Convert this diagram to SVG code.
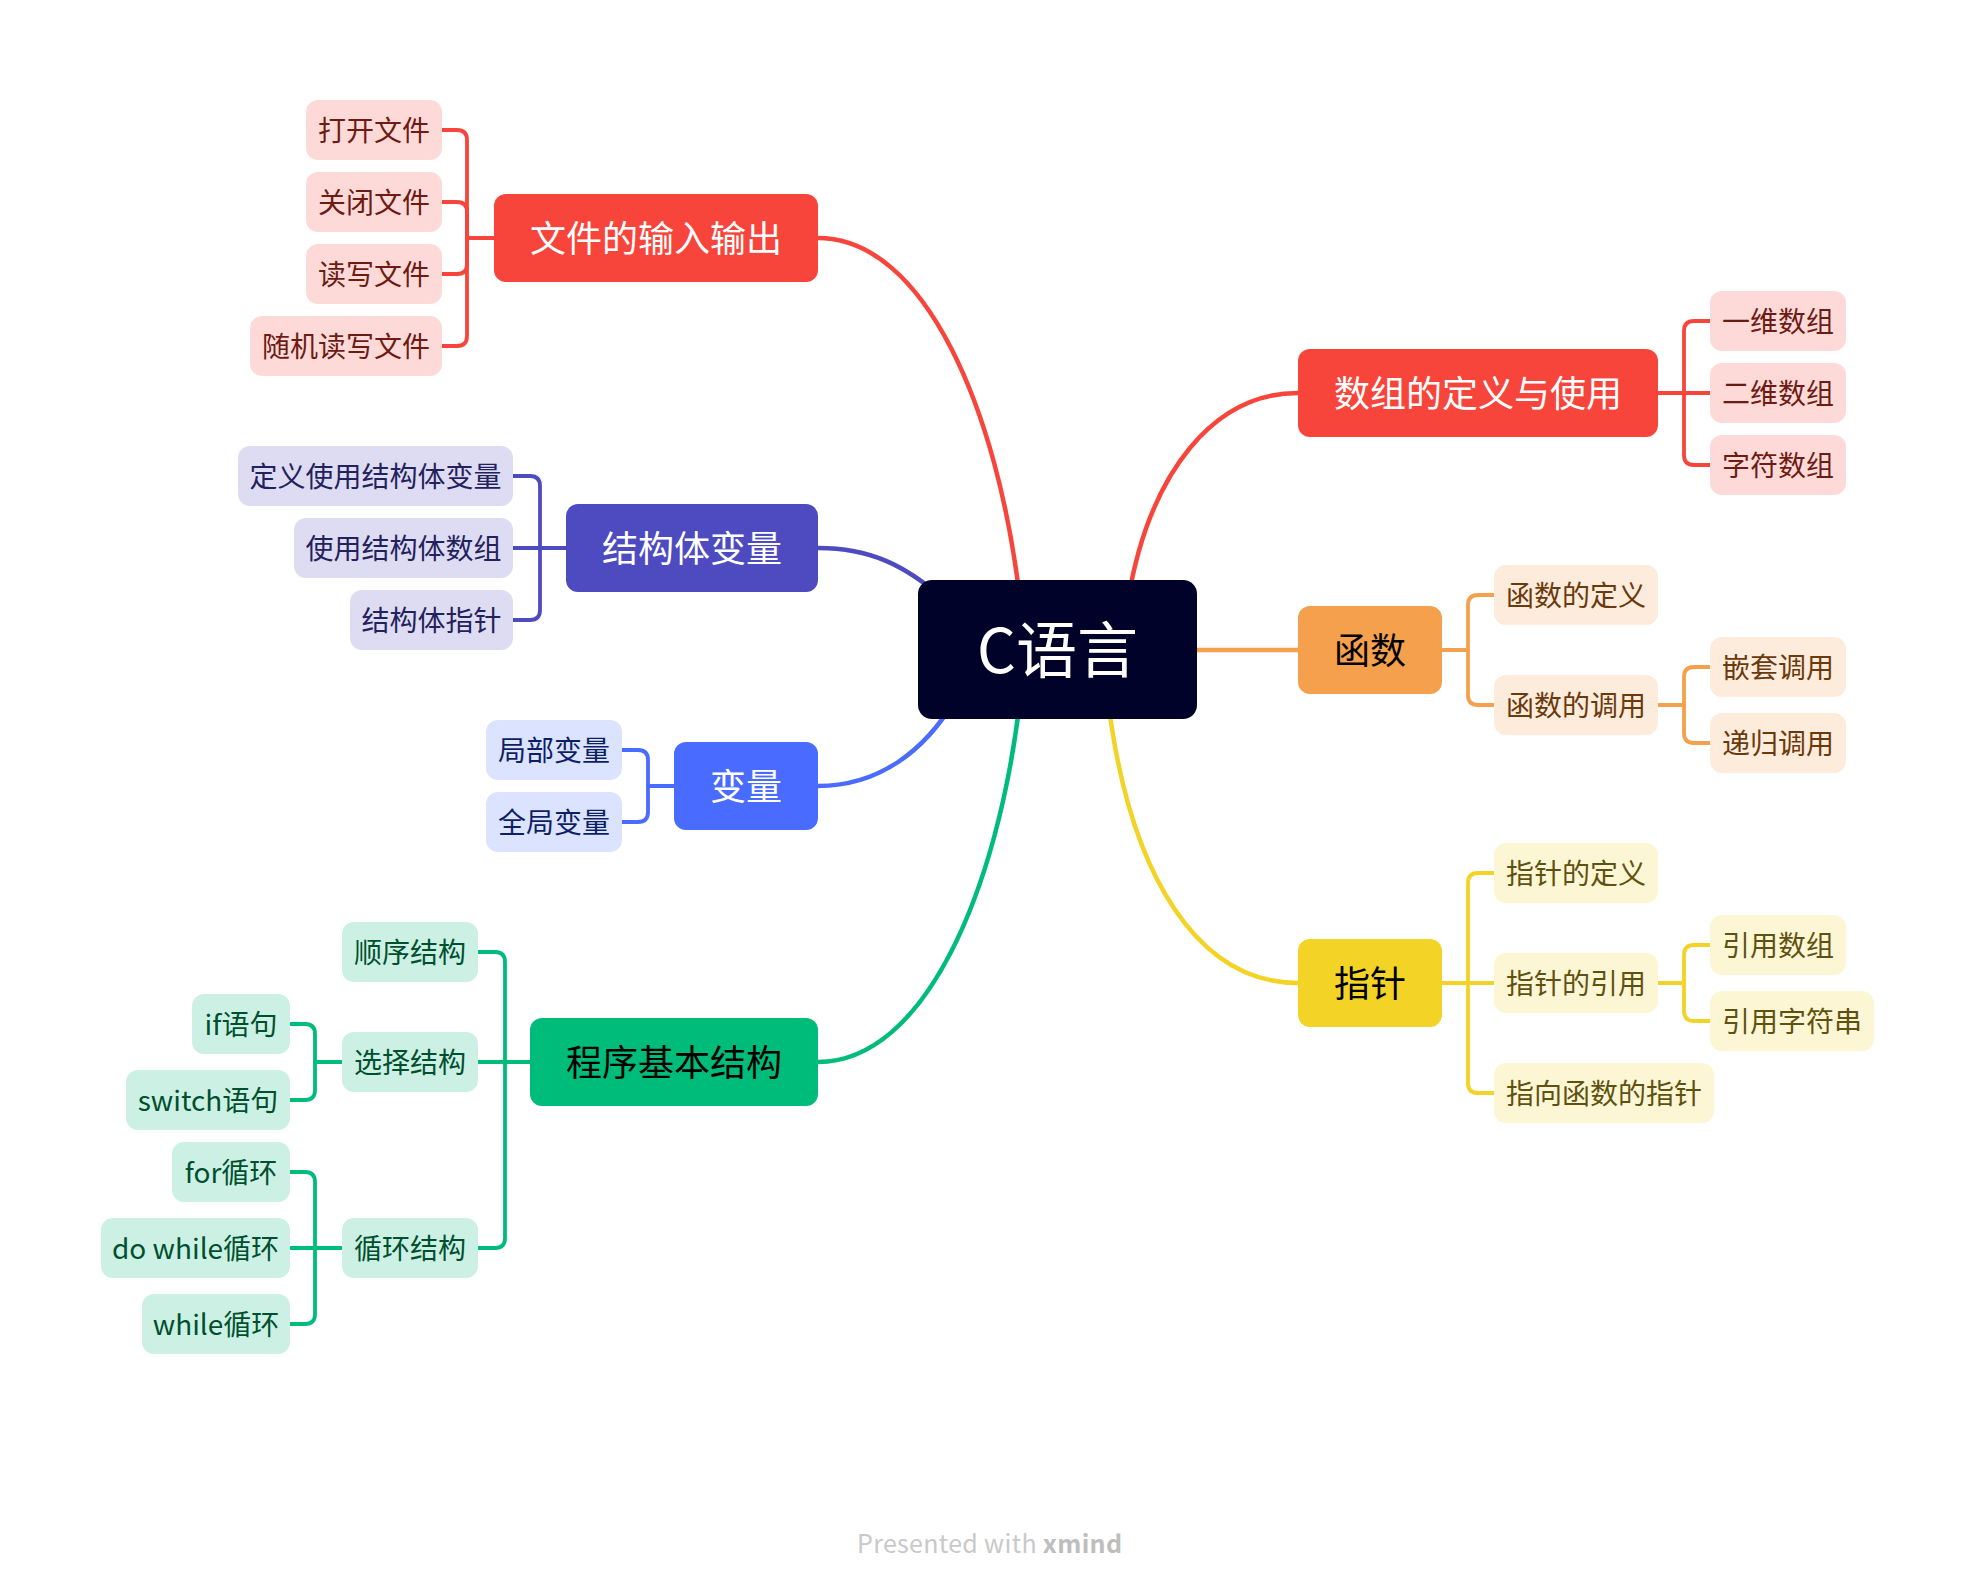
<svg xmlns="http://www.w3.org/2000/svg" width="1974" height="1594" viewBox="0 0 1974 1594">
<style>
text{font-family:"Noto Sans CJK SC","Noto Sans",sans-serif;text-anchor:middle}
.c{font-size:28px}
.m{font-size:36px}
.conn path{fill:none;stroke-linecap:round;stroke-linejoin:round}
.main{stroke-width:4.5}
.br{stroke-width:3.8}
.sR{stroke:#F8453B}.sP{stroke:#4E4BC1}.sB{stroke:#4A6BFF}.sG{stroke:#00BC7A}.sO{stroke:#F5A04C}.sY{stroke:#F2D326}
.fR{fill:#FDDAD8}.fP{fill:#DEDCF2}.fB{fill:#DCE3FF}.fG{fill:#CCF1E4}.fO{fill:#FDEBDB}.fY{fill:#FDF6D4}
.tR{fill:#6E1B14}.tP{fill:#24225E}.tB{fill:#0E1F66}.tG{fill:#00502F}.tO{fill:#6B3A0C}.tY{fill:#5F5211}
</style>
<rect width="1974" height="1594" fill="#FFFFFF"/>
<g id="connectors" class="conn">
<path class="main sR" d="M818,238 C925,238 998,410 1020,600"/>
<path class="main sP" d="M818,548 C870,548 905,565 945,600"/>
<path class="main sB" d="M818,786 C880,786 925,750 955,700"/>
<path class="main sG" d="M818,1062 C925,1062 998,890 1020,700"/>
<path class="main sR" d="M1298,393 C1215,393 1150,470 1128,600"/>
<path class="main sO" d="M1150,650 H1298"/>
<path class="main sY" d="M1298,983 C1200,983 1130,880 1108,700"/>
<path class="br sR" d="M494,238 H467 V140 Q467,130 457,130 H442"/>
<path class="br sR" d="M494,238 H467 V212 Q467,202 457,202 H442"/>
<path class="br sR" d="M494,238 H467 V264 Q467,274 457,274 H442"/>
<path class="br sR" d="M494,238 H467 V336 Q467,346 457,346 H442"/>
<path class="br sP" d="M566,548 H540 V486 Q540,476 530,476 H513"/>
<path class="br sP" d="M566,548 H513"/>
<path class="br sP" d="M566,548 H540 V610 Q540,620 530,620 H513"/>
<path class="br sB" d="M674,786 H648 V760 Q648,750 638,750 H622"/>
<path class="br sB" d="M674,786 H648 V812 Q648,822 638,822 H622"/>
<path class="br sG" d="M530,1062 H505 V962 Q505,952 495,952 H478"/>
<path class="br sG" d="M530,1062 H478"/>
<path class="br sG" d="M530,1062 H505 V1238 Q505,1248 495,1248 H478"/>
<path class="br sG" d="M342,1062 H315 V1034 Q315,1024 305,1024 H290"/>
<path class="br sG" d="M342,1062 H315 V1090 Q315,1100 305,1100 H290"/>
<path class="br sG" d="M342,1248 H315 V1182 Q315,1172 305,1172 H290"/>
<path class="br sG" d="M342,1248 H290"/>
<path class="br sG" d="M342,1248 H315 V1314 Q315,1324 305,1324 H290"/>
<path class="br sR" d="M1658,393 H1684 V331 Q1684,321 1694,321 H1710"/>
<path class="br sR" d="M1658,393 H1710"/>
<path class="br sR" d="M1658,393 H1684 V455 Q1684,465 1694,465 H1710"/>
<path class="br sO" d="M1442,650 H1468 V605 Q1468,595 1478,595 H1494"/>
<path class="br sO" d="M1442,650 H1468 V695 Q1468,705 1478,705 H1494"/>
<path class="br sO" d="M1658,705 H1684 V677 Q1684,667 1694,667 H1710"/>
<path class="br sO" d="M1658,705 H1684 V733 Q1684,743 1694,743 H1710"/>
<path class="br sY" d="M1442,983 H1468 V883 Q1468,873 1478,873 H1494"/>
<path class="br sY" d="M1442,983 H1494"/>
<path class="br sY" d="M1442,983 H1468 V1083 Q1468,1093 1478,1093 H1494"/>
<path class="br sY" d="M1658,983 H1684 V955 Q1684,945 1694,945 H1710"/>
<path class="br sY" d="M1658,983 H1684 V1011 Q1684,1021 1694,1021 H1710"/>
</g>
<g id="root"><rect x="918" y="580" width="279" height="139" rx="14" fill="#00022A"/><text x="1057.5" y="672.5" font-size="61" fill="#FFFFFF">C语言</text></g>
<g id="n-file"><rect x="494" y="194" width="324" height="88" rx="12" fill="#F8453B"/><text class="m" x="656" y="251.7" fill="#FFFFFF">文件的输入输出</text></g>
<g id="n-file-1"><rect class="fR" x="306" y="100" width="136" height="60" rx="12"/><text class="c tR" x="374" y="140.6">打开文件</text></g>
<g id="n-file-2"><rect class="fR" x="306" y="172" width="136" height="60" rx="12"/><text class="c tR" x="374" y="212.6">关闭文件</text></g>
<g id="n-file-3"><rect class="fR" x="306" y="244" width="136" height="60" rx="12"/><text class="c tR" x="374" y="284.6">读写文件</text></g>
<g id="n-file-4"><rect class="fR" x="250" y="316" width="192" height="60" rx="12"/><text class="c tR" x="346" y="356.6">随机读写文件</text></g>
<g id="n-struct"><rect x="566" y="504" width="252" height="88" rx="12" fill="#4E4BC1"/><text class="m" x="692" y="561.7" fill="#FFFFFF">结构体变量</text></g>
<g id="n-struct-1"><rect class="fP" x="238" y="446" width="275" height="60" rx="12"/><text class="c tP" x="375.5" y="486.6">定义使用结构体变量</text></g>
<g id="n-struct-2"><rect class="fP" x="294" y="518" width="219" height="60" rx="12"/><text class="c tP" x="403.5" y="558.6">使用结构体数组</text></g>
<g id="n-struct-3"><rect class="fP" x="350" y="590" width="163" height="60" rx="12"/><text class="c tP" x="431.5" y="630.6">结构体指针</text></g>
<g id="n-var"><rect x="674" y="742" width="144" height="88" rx="12" fill="#4A6BFF"/><text class="m" x="746" y="799.7" fill="#FFFFFF">变量</text></g>
<g id="n-var-1"><rect class="fB" x="486" y="720" width="136" height="60" rx="12"/><text class="c tB" x="554" y="760.6">局部变量</text></g>
<g id="n-var-2"><rect class="fB" x="486" y="792" width="136" height="60" rx="12"/><text class="c tB" x="554" y="832.6">全局变量</text></g>
<g id="n-prog"><rect x="530" y="1018" width="288" height="88" rx="12" fill="#00BC7A"/><text class="m" x="674" y="1075.7" fill="#000000">程序基本结构</text></g>
<g id="n-prog-1"><rect class="fG" x="342" y="922" width="136" height="60" rx="12"/><text class="c tG" x="410" y="962.6">顺序结构</text></g>
<g id="n-prog-2"><rect class="fG" x="342" y="1032" width="136" height="60" rx="12"/><text class="c tG" x="410" y="1072.6">选择结构</text></g>
<g id="n-prog-3"><rect class="fG" x="342" y="1218" width="136" height="60" rx="12"/><text class="c tG" x="410" y="1258.6">循环结构</text></g>
<g id="n-if"><rect class="fG" x="192" y="994" width="98" height="60" rx="12"/><text class="c tG" x="241" y="1034.6">if语句</text></g>
<g id="n-switch"><rect class="fG" x="126" y="1070" width="164" height="60" rx="12"/><text class="c tG" x="208" y="1110.6">switch语句</text></g>
<g id="n-for"><rect class="fG" x="172" y="1142" width="118" height="60" rx="12"/><text class="c tG" x="231" y="1182.6">for循环</text></g>
<g id="n-dowhile"><rect class="fG" x="101" y="1218" width="189" height="60" rx="12"/><text class="c tG" x="195.5" y="1258.6">do while循环</text></g>
<g id="n-while"><rect class="fG" x="142" y="1294" width="148" height="60" rx="12"/><text class="c tG" x="216" y="1334.6">while循环</text></g>
<g id="n-array"><rect x="1298" y="349" width="360" height="88" rx="12" fill="#F8453B"/><text class="m" x="1478" y="406.7" fill="#FFFFFF">数组的定义与使用</text></g>
<g id="n-array-1"><rect class="fR" x="1710" y="291" width="136" height="60" rx="12"/><text class="c tR" x="1778" y="331.6">一维数组</text></g>
<g id="n-array-2"><rect class="fR" x="1710" y="363" width="136" height="60" rx="12"/><text class="c tR" x="1778" y="403.6">二维数组</text></g>
<g id="n-array-3"><rect class="fR" x="1710" y="435" width="136" height="60" rx="12"/><text class="c tR" x="1778" y="475.6">字符数组</text></g>
<g id="n-func"><rect x="1298" y="606" width="144" height="88" rx="12" fill="#F5A04C"/><text class="m" x="1370" y="663.7" fill="#000000">函数</text></g>
<g id="n-func-1"><rect class="fO" x="1494" y="565" width="164" height="60" rx="12"/><text class="c tO" x="1576" y="605.6">函数的定义</text></g>
<g id="n-func-2"><rect class="fO" x="1494" y="675" width="164" height="60" rx="12"/><text class="c tO" x="1576" y="715.6">函数的调用</text></g>
<g id="n-func-2a"><rect class="fO" x="1710" y="637" width="136" height="60" rx="12"/><text class="c tO" x="1778" y="677.6">嵌套调用</text></g>
<g id="n-func-2b"><rect class="fO" x="1710" y="713" width="136" height="60" rx="12"/><text class="c tO" x="1778" y="753.6">递归调用</text></g>
<g id="n-ptr"><rect x="1298" y="939" width="144" height="88" rx="12" fill="#F2D326"/><text class="m" x="1370" y="996.7" fill="#000000">指针</text></g>
<g id="n-ptr-1"><rect class="fY" x="1494" y="843" width="164" height="60" rx="12"/><text class="c tY" x="1576" y="883.6">指针的定义</text></g>
<g id="n-ptr-2"><rect class="fY" x="1494" y="953" width="164" height="60" rx="12"/><text class="c tY" x="1576" y="993.6">指针的引用</text></g>
<g id="n-ptr-3"><rect class="fY" x="1494" y="1063" width="220" height="60" rx="12"/><text class="c tY" x="1604" y="1103.6">指向函数的指针</text></g>
<g id="n-ptr-2a"><rect class="fY" x="1710" y="915" width="136" height="60" rx="12"/><text class="c tY" x="1778" y="955.6">引用数组</text></g>
<g id="n-ptr-2b"><rect class="fY" x="1710" y="991" width="164" height="60" rx="12"/><text class="c tY" x="1792" y="1031.6">引用字符串</text></g>
<text x="989.5" y="1553" font-family="'Noto Sans',sans-serif" font-size="25" fill="#C9C9C9" textLength="265" lengthAdjust="spacing">Presented with <tspan font-weight="bold" fill="#BDBDBD">xmind</tspan></text>
</svg>
